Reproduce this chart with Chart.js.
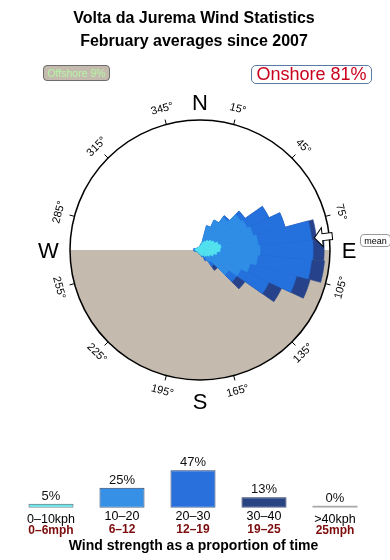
<!DOCTYPE html>
<html><head><meta charset="utf-8">
<script src="https://cdn.jsdelivr.net/npm/chart.js@4.4.1/dist/chart.umd.min.js"></script>
<style>
body{margin:0;background:#fff;width:390px;height:560px;position:relative;overflow:hidden;font-family:"Liberation Sans",Arial,sans-serif;}
canvas{position:absolute;left:0;}
#rose{top:0}
#bars{top:440px}
.t{position:absolute;left:0;width:388px;text-align:center;font-weight:bold;font-size:16px;line-height:16px;color:#000;white-space:nowrap;}
.box{position:absolute;box-sizing:border-box;display:flex;align-items:center;justify-content:center;white-space:nowrap;}
#off{left:43px;top:65px;width:67px;height:16px;border:1px solid #6d6d6d;border-radius:4px;background:#c4baad;color:#b6f5a6;font-size:10.5px;}
#on{left:251px;top:65px;width:121px;height:19px;border:1px solid #5b7ca0;border-radius:5px;color:#c8001e;font-size:18px;}
#mean{left:360px;top:234px;width:31px;height:13px;border:1px solid #999;border-radius:4px;font-size:9px;color:#000;}
</style></head>
<body>
<canvas id="rose" width="390" height="560"></canvas>
<canvas id="bars" width="390" height="120"></canvas>
<div class="t" style="top:9.8px">Volta da Jurema Wind Statistics</div>
<div class="t" style="top:33px">February averages since 2007</div>
<div class="box" id="off">Offshore 9%</div>
<div class="box" id="on">Onshore 81%</div>
<div class="box" id="mean">mean</div>
<script>
// ---- Wind rose data (direction in degrees, share per speed class; circle edge = 100) ----
const DIRECTIONS = [0,10,20,30,40,50,60,70,80,90,100,110,120,130,140,150,160,170,180,190,200,210,220,230,240,250,260,270,280,290,300,310,320,330,340,350];
const KPH_0_10  = [3.1,3.8,6.2,7.7,9.2,10.8,12.3,14.6,16.2,15.4,13.1,10.8,8.5,6.9,6.2,4.6,4.6,3.8,3.1,3.1,2.3,2.3,2.3,2.3,2.3,2.3,3.1,3.8,3.8,3.1,2.3,2.3,2.3,2.3,2.3,2.3];
const KPH_10_20 = [0,0.8,13.1,17.7,21.5,27.7,27.7,27.7,28.5,30.8,31.5,29.2,26.2,20,5.4,1.5,0.8,0,0,0,0,0,0,0,0,0,1,1,1,0,0,0,0,0,0,0];
const KPH_20_30 = [0,0,0,0,1.5,3.8,18.5,25.4,41.5,40.8,41.5,36.9,23.8,7.7,3.8,3.1,0,0,0,0,0,0,0,0,0,0,0,0,0,0,0,0,0,0,0,0];
const KPH_30_40 = [0,0,0,0,0,0,0,0,3.8,8.5,10,10.8,10.8,7.7,3.8,0,0,0,0,0,0,0,0,0,0,0,0,0,0,0,0,0,0,0,0,0];
const ROSE_MAX = 100;
const MEAN_DIRECTION = 84;
const DEGREE_TICKS = [15,45,75,105,135,165,195,225,255,285,315,345];
const CARDINALS = [['N',0],['E',90],['S',180],['W',270]];

// ---- Speed distribution ----
const SPEED_KPH = ['0\u201310kph','10\u201320','20\u201330','30\u201340','>40kph'];
const SPEED_MPH = ['0\u20136mph','6\u201312','12\u201319','19\u201325','25mph'];
const SPEED_PCT = [5,25,47,13,0];

const C_CYAN='#52e3ef', C_LIGHT='#2f8de6', C_BLUE='#2470dc', C_NAVY='#25428a';

function cumulative(arrays){
  const out=[]; let acc=DIRECTIONS.map(()=>0);
  arrays.forEach(a=>{acc=acc.map((v,i)=>v+a[i]); out.push(acc.slice());});
  return out;
}
const cum = cumulative([KPH_0_10,KPH_10_20,KPH_20_30,KPH_30_40]);
const roseColors=[C_CYAN,C_LIGHT,C_BLUE,C_NAVY];
const roseNames=['0-10kph','10-20kph','20-30kph','30-40kph'];

const FONT='"Liberation Sans", Arial, sans-serif';

const roseDeco = {
  id:'roseDeco',
  beforeDatasetsDraw(chart){
    const s=chart.scales.r, ctx=chart.ctx;
    const cx=s.xCenter, cy=s.yCenter, R=s.drawingArea;
    ctx.save();
    ctx.beginPath(); ctx.moveTo(cx+R,cy); ctx.arc(cx,cy,R,0,Math.PI); ctx.closePath();
    ctx.fillStyle='#c4baad'; ctx.fill();
    ctx.restore();
  },
  afterDatasetsDraw(chart){
    const s=chart.scales.r, ctx=chart.ctx;
    const cx=s.xCenter, cy=s.yCenter, R=s.drawingArea;
    const rad=d=>d*Math.PI/180;
    ctx.save();
    ctx.beginPath(); ctx.arc(cx,cy,R,0,2*Math.PI); ctx.lineWidth=1.5; ctx.strokeStyle='#000'; ctx.stroke();
    ctx.lineWidth=1;
    DEGREE_TICKS.forEach(a=>{
      const sx=Math.sin(rad(a)), sy=-Math.cos(rad(a));
      ctx.beginPath(); ctx.moveTo(cx+sx*R,cy+sy*R); ctx.lineTo(cx+sx*(R+5),cy+sy*(R+5)); ctx.stroke();
      const lr=R+16;
      ctx.save();
      ctx.translate(cx+sx*lr, cy+sy*lr);
      let rot = (a<90||a>270) ? (a>180?a-360:a) : a-180;
      ctx.rotate(rad(rot));
      ctx.font='11px '+FONT; ctx.fillStyle='#000'; ctx.textAlign='center'; ctx.textBaseline='middle';
      ctx.fillText(a+'\u00b0',0,0);
      ctx.restore();
    });
    ctx.font='22px '+FONT; ctx.fillStyle='#000'; ctx.textAlign='center'; ctx.textBaseline='alphabetic';
    CARDINALS.forEach(([t,a])=>{
      let x,y;
      if(a===0){x=cx;y=cy-R-10.5;}
      else if(a===180){x=cx;y=cy+R+29;}
      else if(a===90){x=cx+R+19;y=cy+8.3;}
      else {x=cx-R-21.5;y=cy+8.3;}
      ctx.fillText(t,x,y);
    });
    ctx.save();
    ctx.translate(cx,cy); ctx.rotate(rad(MEAN_DIRECTION-90));
    ctx.beginPath();
    const k=R/130;
    ctx.moveTo(115*k,0); ctx.lineTo(123*k,-9.5); ctx.lineTo(123*k,-3.5); ctx.lineTo(133*k,-3.5);
    ctx.lineTo(133*k,3.5); ctx.lineTo(123*k,3.5); ctx.lineTo(123*k,9.5); ctx.closePath();
    ctx.fillStyle='#fff'; ctx.fill(); ctx.lineWidth=1; ctx.strokeStyle='#000'; ctx.stroke();
    ctx.restore();
    ctx.restore();
  }
};

new Chart(document.getElementById('rose'),{
  type:'polarArea',
  data:{
    labels:DIRECTIONS.map(d=>d+'\u00b0'),
    datasets:cum.map((d,i)=>({label:roseNames[i],data:d,backgroundColor:roseColors[i],borderColor:roseColors[i],borderWidth:0.6}))
  },
  options:{
    responsive:false, animation:false,
    layout:{padding:{left:70,right:60,top:120,bottom:180}},
    plugins:{legend:{display:false},tooltip:{enabled:false}},
    scales:{r:{min:0,max:ROSE_MAX,startAngle:-5,ticks:{display:false},grid:{display:false},angleLines:{display:false},pointLabels:{display:false}}}
  },
  plugins:[roseDeco]
});

const barLabels={
  id:'barLabels',
  afterDatasetsDraw(chart){
    const ctx=chart.ctx, meta=chart.getDatasetMeta(0), bottom=chart.chartArea.bottom;
    const n=meta.data.length;
    ctx.save(); ctx.textAlign='center'; ctx.textBaseline='alphabetic';
    meta.data.forEach((bar,i)=>{
      const edge=(i===0||i===n-1);
      ctx.fillStyle='#111'; ctx.font='13px '+FONT;
      ctx.fillText(SPEED_PCT[i]+'%', bar.x, bar.y-4);
      ctx.font='12.5px '+FONT; ctx.fillStyle='#000';
      ctx.fillText(SPEED_KPH[i], bar.x, bottom+(edge?15.4:12.3));
      ctx.font='bold 12px '+FONT; ctx.fillStyle='#7d0c0c';
      ctx.fillText(SPEED_MPH[i], bar.x, bottom+(edge?26.6:25));
    });
    ctx.font='bold 14px '+FONT; ctx.fillStyle='#000';
    ctx.fillText('Wind strength as a proportion of time', 193.5, bottom+41.8);
    ctx.restore();
  }
};

new Chart(document.getElementById('bars'),{
  type:'bar',
  data:{labels:SPEED_KPH,datasets:[{
    data:SPEED_PCT,
    backgroundColor:['#62e8ea','#3590e6','#2a70dc','#294483','#aaaaaa'],
    borderColor:['#5a6470','#2a3f66','#26406e','#1e2e55','#aaaaaa'],
    borderWidth:[1,1,1,1,0], borderSkipped:false,
    barPercentage:0.634, categoryPercentage:1, minBarLength:2
  }]},
  options:{
    responsive:false, animation:false,
    layout:{padding:{left:15.5,right:19.5,top:20,bottom:52.3}},
    scales:{x:{display:false},y:{display:false,min:0,max:60}},
    plugins:{legend:{display:false},tooltip:{enabled:false}}
  },
  plugins:[barLabels]
});
</script>
</body></html>
